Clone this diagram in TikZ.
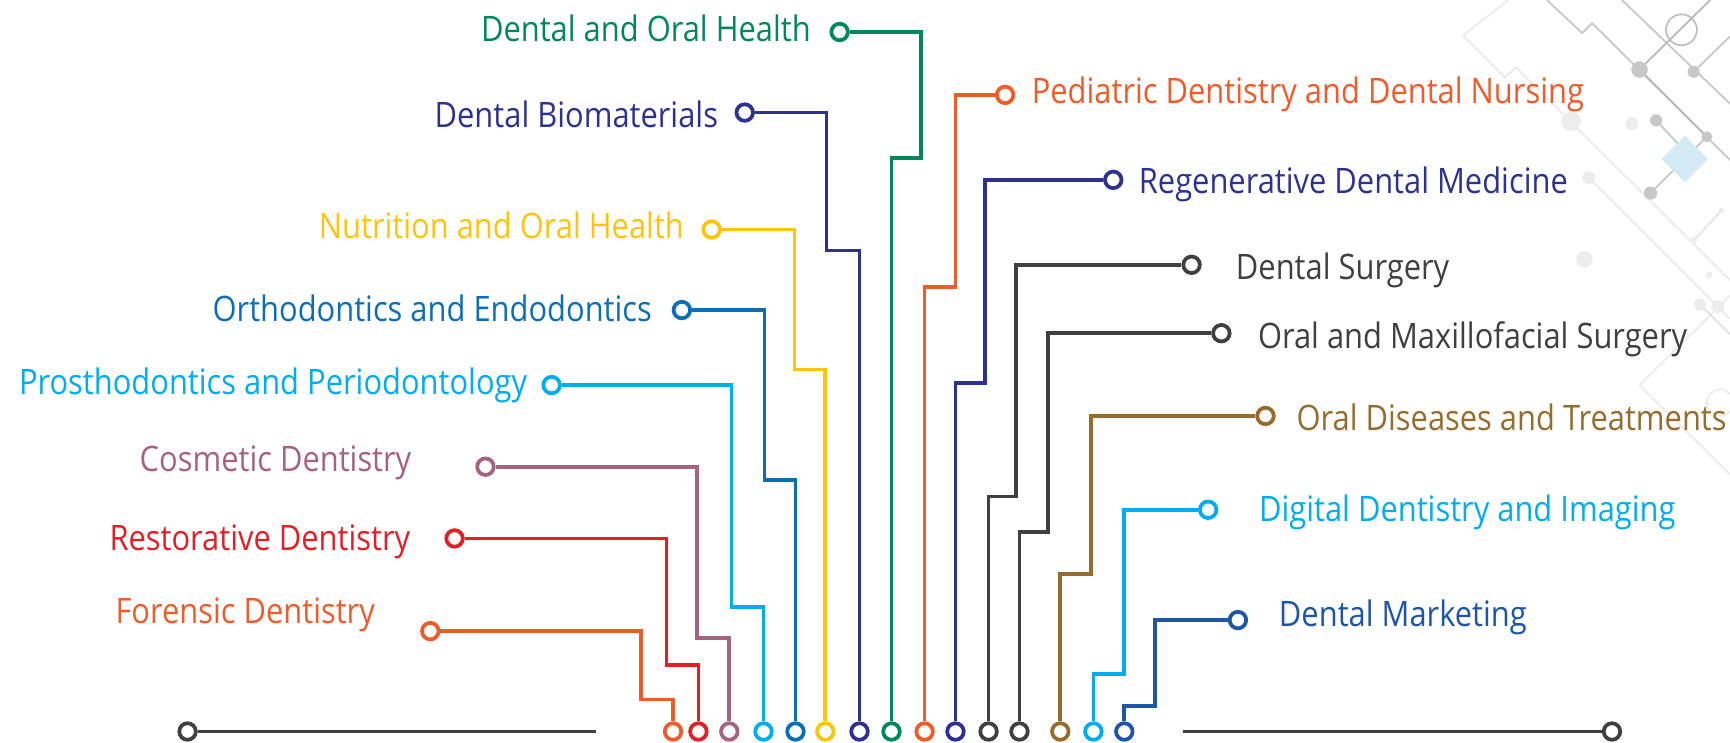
\documentclass[tikz,border=0pt]{standalone}
\usepackage{fontspec}
\setmainfont{Open Sans}[FakeStretch=0.88]
\definecolor{cOrange}{HTML}{F15A29}
\definecolor{cRed}{HTML}{E31E26}
\definecolor{cMauve}{HTML}{A5637F}
\definecolor{cCyan}{HTML}{00AEEF}
\definecolor{cBlue}{HTML}{0B6FB8}
\definecolor{cYellow}{HTML}{FFC40C}
\definecolor{cNavy}{HTML}{2E3192}
\definecolor{cGreen}{HTML}{00875B}
\definecolor{cGray}{HTML}{404040}
\definecolor{cBrown}{HTML}{956C2C}
\definecolor{cMarket}{HTML}{1D56A6}
\definecolor{cIce}{HTML}{D3EBF4}
\tikzset{ring/.style={circle, draw=#1, line width=3.4pt, fill=white,
         minimum size=15pt, inner sep=0pt},
         wire/.style={draw=#1, line width=3.4pt},
         topic/.style={text=#1, font=\fontsize{31.8}{38}\selectfont, inner sep=0pt},
         deco/.style={draw=black!#1, line width=1.6pt},
         deco/.default={22}}

\begin{document}
\begin{tikzpicture}[x=1pt,y=-1pt]
  \useasboundingbox (0,0) rectangle (1568,673);
  % circuit pattern in the corner
  \begin{scope}
    \draw[deco=8] (1326,32) -- (1367,0) (1326,32) -- (1364,70) -- (1374,61) -- (1568,254);
    \draw[deco=8] (1440,161) -- (1568,289);
    \draw[deco=8] (1486,349) -- (1568,268) (1486,349) -- (1568,430);
    \draw[deco] (1402,0) -- (1434,30) -- (1443,21) -- (1568,145);
    \draw[deco] (1470,0) -- (1568,94);
    \draw[deco=28] (1550,0) -- (1486,63) -- (1547,124);
    \draw[deco] (1535,65) -- (1568,33);
    \draw[deco] (1501,109) -- (1527,137);
    \draw[deco] (1496,175) -- (1547,124);
    \draw[deco=10] (1535,218) -- (1560,191);
    \draw[deco=12] (1541,276) -- (1568,303);
    \draw[deco=25] (1524,27) circle[radius=14];
    \draw[black!8, line width=1.6pt] (1559,365) circle[radius=12];
    \fill[cIce] (1527,123) -- (1548,144) -- (1527,165) -- (1506,144) -- cycle;
    \fill[black!22] (1486,63) circle[radius=7.5] (1535,65) circle[radius=5.5]
      (1501,109) circle[radius=5.5] (1547,124) circle[radius=5] (1496,175) circle[radius=6];
    \fill[black!7] (1424,110) circle[radius=9] (1479,112) circle[radius=6]
      (1440,161) circle[radius=6] (1436,235) circle[radius=7.5] (1541,276) circle[radius=5.5]
      (1557,278) circle[radius=6] (1535,218) circle[radius=3] (1560,191) circle[radius=2.5]
      (1549,249) circle[radius=3];
  \end{scope}
  % base line
  \node[ring=cGray] (base-l) at (170,663) {};
  \coordinate (base-lc) at (540,663);
  \node[ring=cGray] (base-r) at (1461,663) {};
  \coordinate (base-rc) at (1072,663);
  \draw[wire=cGray] (base-l) -- (base-lc);
  \draw[wire=cGray] (base-rc) -- (base-r);
  % branches on the left
  \foreach \n/\c/\tx/\ty/\kx/\ky/\bx/\lx/\ly/\txt in {
      forensic/cOrange/390/572/581/634/610/340/565/Forensic Dentistry,
      restorative/cRed/412/488/604/603/633/372/499/Restorative Dentistry,
      cosmetic/cMauve/440/423/632/578/661/373/427/Cosmetic Dentistry,
      prostho/cCyan/500/349/663/550/692/478/358/Prosthodontics and Periodontology,
      ortho/cBlue/618/281/693/435/721/591/291/Orthodontics and Endodontics,
      nutrition/cYellow/645/208/720/335/748/620/216/Nutrition and Oral Health,
      biomat/cNavy/675/102/749/227/779/651/116/Dental Biomaterials,
      oralhealth/cGreen/761/29/835/143/808/735/38/Dental and Oral Health}{
    \node[ring=\c] (\n-top) at (\tx,\ty) {};
    \node[ring=\c] (\n-bot) at (\bx,663) {};
    \node[topic=\c, anchor=base east] (\n-label) at (\lx,\ly) {\txt};
    \draw[wire=\c] (\n-top) -| (\kx,\ky) -| (\n-bot);
  }
  % branches on the right
  \foreach \n/\c/\bx/\ky/\kx/\tx/\ty/\lx/\ly/\txt in {
      pediatric/cOrange/838/260/866/911/86/935/94/Pediatric Dentistry and Dental Nursing,
      regen/cNavy/866/347/893/1009/163/1032/175/Regenerative Dental Medicine,
      surgery/cGray/896/450/921/1080/240/1120/253/Dental Surgery,
      maxfac/cGray/924/482/950/1107/302/1140/316/Oral and Maxillofacial Surgery,
      diseases/cBrown/961/520/989/1147/377/1175/390/Oral Diseases and Treatments,
      digital/cCyan/991/611/1019/1095/462/1141/473/Digital Dentistry and Imaging,
      marketing/cMarket/1019/640/1047/1122/562/1159/568/Dental Marketing}{
    \node[ring=\c] (\n-top) at (\tx,\ty) {};
    \node[ring=\c] (\n-bot) at (\bx,663) {};
    \node[topic=\c, anchor=base west] (\n-label) at (\lx,\ly) {\txt};
    \draw[wire=\c] (\n-bot) |- (\kx,\ky) |- (\n-top);
  }
\end{tikzpicture}
\end{document}
